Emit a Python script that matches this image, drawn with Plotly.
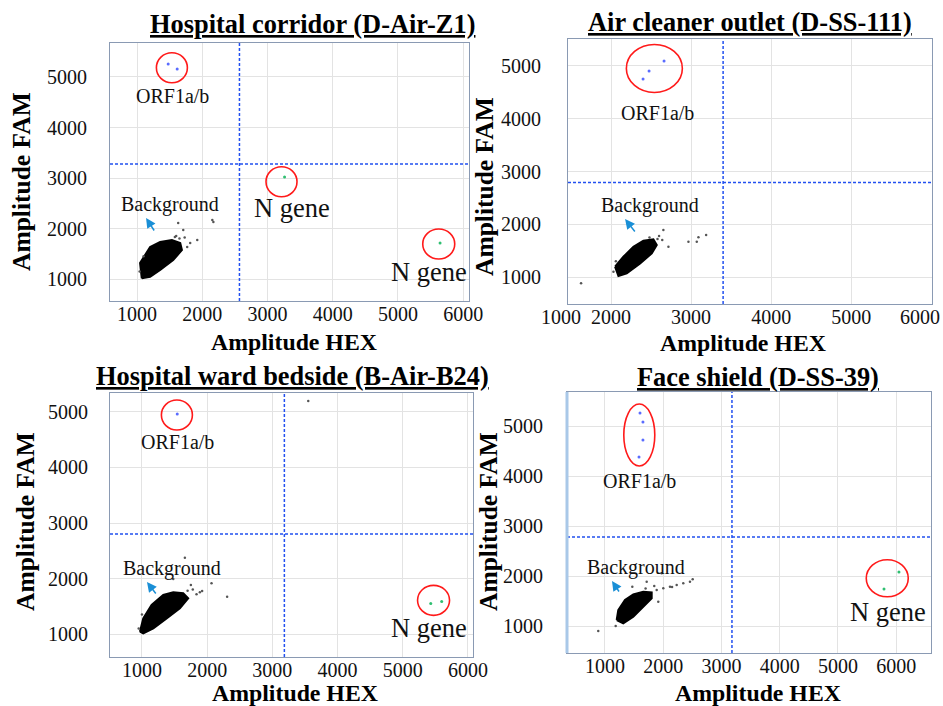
import plotly.graph_objects as go

W, H = 943, 706
FONT = "Liberation Serif"

# ---------------- data ----------------
titles = ["Hospital corridor (D-Air-Z1)", "Air cleaner outlet (D-SS-111)",
          "Hospital ward bedside (B-Air-B24)", "Face shield (D-SS-39)"]

x_ticks = [1000, 2000, 3000, 4000, 5000, 6000]
y_ticks = [1000, 2000, 3000, 4000, 5000]

# thresholds (HEX, FAM)
thr_hex = [2570, 3400, 3184, 3180]
thr_fam = [3277, 2790, 2802, 2780]

# ORF1a/b positive droplets (FAM+)
orf_hex = [[1477, 1615], [2662, 2475, 2400], [1541], [1601, 1652, 1652, 1584]]
orf_fam = [[5257, 5158], [5095, 4905, 4754], [4964], [5260, 5080, 4720, 4380]]

# N gene positive droplets (HEX+)
n_hex = [[3262, 5646], [], [5429, 5597], [6047, 5790]]
n_fam = [[3020, 1713], [], [1550, 1586], [2080, 1740]]

# background cluster outline (dense negative droplets)
bg_hex = [
    [1072, 1046, 1200, 1354, 1534, 1662, 1688, 1554, 1354, 1200],
    [2050, 2154, 2279, 2404, 2529, 2571, 2509, 2363, 2196, 2092],
    [969, 1020, 1148, 1327, 1480, 1633, 1709, 1582, 1378, 1174, 1020],
    [1201, 1228, 1343, 1486, 1657, 1802, 1802, 1657, 1486, 1314],
]
bg_fam = [
    [1014, 1317, 1634, 1733, 1772, 1713, 1574, 1376, 1178, 1046],
    [1195, 1384, 1574, 1688, 1714, 1606, 1449, 1259, 1070, 1019],
    [1042, 1282, 1523, 1703, 1751, 1733, 1643, 1463, 1282, 1102, 1012],
    [1120, 1320, 1520, 1633, 1687, 1673, 1553, 1387, 1187, 1053],
]

# scattered negative droplets outside the dense cluster
out_hex = [
    [1631, 2154, 2170, 1923, 1769, 1815, 1708, 1730, 1600, 1040, 1100, 1650, 1580],
    [2654, 2717, 2967, 3092, 3188, 3071, 1625, 2600, 2640, 2030, 2060, 2580, 2480],
    [1658, 1750, 1888, 1923, 2067, 2306, 1480, 1837, 1780, 3550, 950, 1000, 1700],
    [1888, 2001, 2116, 2231, 2344, 2459, 2506, 1469, 1716, 885, 1915, 1973, 1846, 2152, 1184, 1697],
]
out_fam = [
    [2109, 2168, 2129, 1772, 1634, 1713, 1970, 1820, 1850, 1150, 1450, 1800, 1830],
    [1890, 1574, 1669, 1752, 1795, 1669, 881, 1780, 1700, 1100, 1300, 1720, 1750],
    [2375, 1883, 1751, 1775, 1913, 1673, 1991, 1715, 1800, 5200, 1100, 1350, 1780],
    [1720, 1753, 1787, 1820, 1853, 1887, 1933, 1787, 1887, 900, 1487, 2053, 1800, 1780, 1000, 1750],
]

# ---------------- layout geometry (pixels) ----------------
# plot boxes: left, right, top, bottom
boxes = [(110, 469, 43, 301), (568, 932, 39, 304), (110, 473, 393, 657), (567, 931, 392, 653)]
xr = [(585, 6090), (1462, 6010), (510, 6077), (348, 6597)]
yr = [(565, 5673), (489, 5511), (586, 5342), (460, 5680)]
title_pos = [(312, 24), (750, 22), (292, 376), (758, 377)]
fam_pos = [(21, 182), (485, 187), (25, 522), (488, 522)]
hex_pos = [(294, 342), (743, 343), (295, 693), (758, 693)]

# annotation label positions in data coordinates
orf_lab = [(1538, 4624), (2575, 4106), (1551, 4459), (1584, 3900)]
bg_lab = [(1508, 2485), (2487, 2364), (1459, 2189), (1532, 2180)]
n_lab = [[(3369, 2406), (5477, 1139)], [], [(5395, 1108)], [(5858, 1280)]]
arrows = [((1277, 1931), (1138, 2208)), ((2312, 1833), (2175, 2098)),
          ((1230, 1703), (1077, 1937)), ((1258, 1660), (1120, 1900))]
# circles: centre (data), width, height (pixels)
circles = [
    [((1534, 5184), 31, 30), ((3215, 2927), 31, 30), ((5626, 1693), 32, 30)],
    [((2541, 4953), 56, 48)],
    [((1536, 4946), 31, 30), ((5472, 1607), 32, 30)],
    [((1589, 4820), 31, 62), ((5846, 1954), 42, 37)],
]
ystand = [18, 22, 17, 19]


def fx(p):
    return p / W


def fy(p):
    return 1 - p / H


fig = go.Figure()
annotations = []
shapes = []

for i in range(4):
    sfx = "" if i == 0 else str(i + 1)
    xa, ya = "x" + sfx, "y" + sfx
    l, r, t, b = boxes[i]
    frame_col = "#8a9ab3"
    # panel 2: the edge labels "1000"/"6000" sit squeezed inside the frame (added below)
    xtext = [str(v) for v in x_ticks]
    if i == 1:
        xtext[-1] = ""
    fig.update_layout(**{
        "xaxis" + sfx: dict(
            domain=[fx(l), fx(r)], range=list(xr[i]), anchor=ya, automargin=False,
            tickvals=x_ticks, ticktext=xtext, showgrid=True, gridcolor="#e3e3e3", gridwidth=1,
            zeroline=False, showline=True, linecolor=frame_col, linewidth=1.2, mirror=True,
            ticks="", tickfont=dict(family=FONT, size=20, color="#111"),
            ticklabelstandoff=-5,
        ),
        "yaxis" + sfx: dict(
            domain=[fy(b), fy(t)], range=list(yr[i]), anchor=xa, automargin=False,
            tickvals=y_ticks, showgrid=True, gridcolor="#e3e3e3", gridwidth=1,
            zeroline=False, showline=True, linecolor=frame_col, linewidth=1.2, mirror=True,
            ticks="", tickfont=dict(family=FONT, size=20, color="#111"),
            ticklabelstandoff=ystand[i],
        ),
    })

    # background cluster
    fig.add_trace(go.Scatter(
        x=bg_hex[i] + [bg_hex[i][0]], y=bg_fam[i] + [bg_fam[i][0]], xaxis=xa, yaxis=ya,
        mode="lines", fill="toself", fillcolor="#000", line=dict(color="#000", width=2),
        hoverinfo="skip", showlegend=False))
    fig.add_trace(go.Scatter(
        x=out_hex[i], y=out_fam[i], xaxis=xa, yaxis=ya, mode="markers",
        marker=dict(size=2.5, color="#555"), showlegend=False, hoverinfo="skip"))
    # positives
    fig.add_trace(go.Scatter(
        x=orf_hex[i], y=orf_fam[i], xaxis=xa, yaxis=ya, mode="markers",
        marker=dict(size=3, color="#5a6cff"), showlegend=False))
    if n_hex[i]:
        fig.add_trace(go.Scatter(
            x=n_hex[i], y=n_fam[i], xaxis=xa, yaxis=ya, mode="markers",
            marker=dict(size=3, color="#2fbf71"), showlegend=False))

    # threshold lines
    dash_col = "#2250f0"
    shapes.append(dict(type="line", xref=xa, yref=ya + " domain", x0=thr_hex[i], x1=thr_hex[i],
                       y0=0, y1=1, line=dict(color=dash_col, width=1.5, dash="3px,2px")))
    shapes.append(dict(type="line", xref=xa + " domain", yref=ya, x0=0, x1=1,
                       y0=thr_fam[i], y1=thr_fam[i], line=dict(color=dash_col, width=1.5, dash="3px,2px")))

    # circles
    for (cx, cy), cw, ch in circles[i]:
        shapes.append(dict(type="circle", xref=xa, yref=ya, xsizemode="pixel", ysizemode="pixel",
                           xanchor=cx, yanchor=cy, x0=-cw / 2, x1=cw / 2, y0=-ch / 2, y1=ch / 2,
                           line=dict(color="#ff1a1a", width=1.6)))

    # labels
    annotations.append(dict(text="ORF1a/b", x=orf_lab[i][0], y=orf_lab[i][1], xref=xa, yref=ya,
                            showarrow=False, font=dict(family=FONT, size=20, color="#111")))
    annotations.append(dict(text="Background", x=bg_lab[i][0], y=bg_lab[i][1], xref=xa, yref=ya,
                            showarrow=False, font=dict(family=FONT, size=20, color="#111")))
    for (nx, ny) in n_lab[i]:
        annotations.append(dict(text="N gene", x=nx, y=ny, xref=xa, yref=ya,
                                showarrow=False, font=dict(family=FONT, size=26.5, color="#111")))
    (tx, ty), (hx, hy) = arrows[i]
    annotations.append(dict(text="", x=hx, y=hy, ax=tx, ay=ty, xref=xa, yref=ya, axref=xa, ayref=ya,
                            showarrow=True, arrowhead=2, arrowsize=1.3, arrowwidth=1.5,
                            arrowcolor="#1a8fd6"))

    # titles & axis titles
    common = dict(xref="paper", yref="paper", showarrow=False, xanchor="center", yanchor="middle")
    annotations.append(dict(text="<b><u>" + titles[i] + "</u></b>", x=fx(title_pos[i][0]),
                            y=fy(title_pos[i][1]), font=dict(family=FONT, size=26.4, color="#000"),
                            **common))
    annotations.append(dict(text="<b>Amplitude FAM</b>", x=fx(fam_pos[i][0]), y=fy(fam_pos[i][1]),
                            textangle=-90, font=dict(family=FONT, size=25.5, color="#000"), **common))
    annotations.append(dict(text="<b>Amplitude HEX</b>", x=fx(hex_pos[i][0]), y=fy(hex_pos[i][1]),
                            font=dict(family=FONT, size=23.8, color="#000"), **common))

# squeezed "1000" and "6000" tick labels at the edges of panel 2
for txt, px in (("1000", 561), ("6000", 920)):
    annotations.append(dict(text=txt, x=fx(px), y=fy(317), xref="paper", yref="paper",
                            xanchor="center", yanchor="middle",
                            showarrow=False, font=dict(family=FONT, size=20, color="#111")))

# light blue left edge on panel 4
shapes.append(dict(type="line", xref="x4 domain", yref="y4 domain", x0=0, x1=0, y0=0, y1=1,
                   line=dict(color="#a9c8e8", width=3)))

fig.update_layout(width=W, height=H, margin=dict(l=0, r=0, t=0, b=0, autoexpand=False),
                  paper_bgcolor="white", plot_bgcolor="white",
                  annotations=annotations, shapes=shapes, showlegend=False)

fig.write_html("out.html", config={"displayModeBar": False},
               post_script="document.body.style.margin='0';document.body.style.overflow='hidden';")
